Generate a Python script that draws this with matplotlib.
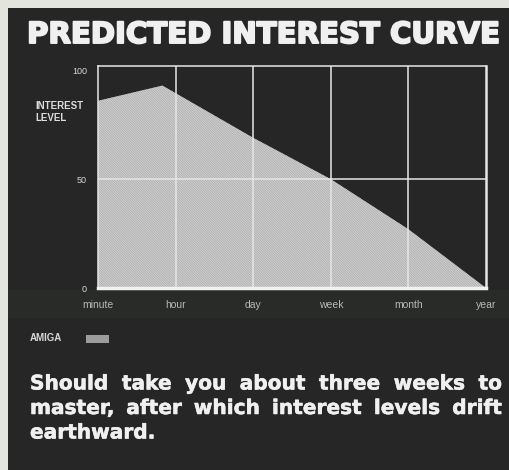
import numpy as np
import matplotlib.pyplot as plt
import matplotlib.patheffects as pe
from matplotlib.patches import Rectangle

# interest curve (x is position along the time axis, 0 = minute ... 5 = year)
time_labels = ['minute', 'hour', 'day', 'week', 'month', 'year']
curve_x = [0, 0.83, 2, 3, 4, 5]
curve_y = [86, 93, 69, 50, 27, 0]
y_ticks = [0, 50, 100]

title = 'PREDICTED INTEREST CURVE'
caption = ['Should take you about three weeks to',
           'master, after which interest levels drift',
           'earthward.']

W, H = 510, 470
bg = '#262626'
fg = '#f0f0f0'
heavy = ['DejaVu Sans']

plt.rcParams['font.family'] = ['Liberation Sans', 'DejaVu Sans']
plt.rcParams['hatch.linewidth'] = 0.7

fig = plt.figure(figsize=(W / 100, H / 100), dpi=100)
fig.patch.set_facecolor('#e4e4df')

# dark panel
fig.add_artist(Rectangle((8 / W, 0), 1, 1 - 8 / H, transform=fig.transFigure,
                         facecolor=bg, edgecolor='none', zorder=-5))
fig.add_artist(Rectangle((8 / W, 1 - 318 / H), 1, 28 / H, transform=fig.transFigure,
                         facecolor='#2a302b', edgecolor='none', alpha=0.6, zorder=-4))

fig.text(263 / W, 1 - 35 / H, title, color=fg, fontsize=21, fontweight='bold',
         family=heavy, ha='center', va='center',
         path_effects=[pe.withStroke(linewidth=1.4, foreground=fg)])

ax = fig.add_axes([98 / W, 1 - 288 / H, 388 / W, 222 / H])
ax.set_facecolor('none')
ax.fill_between(curve_x, curve_y, 0, facecolor='#a8a8a8', edgecolor='#d2d2d2',
                hatch='\\' * 14, linewidth=0, zorder=1)
ax.set_xlim(0, 5)
ax.set_ylim(0, 102)

for k in range(1, 5):
    ax.axvline(k, color='#e6e6e6', lw=1.1, zorder=3)
ax.axhline(50, color='#e6e6e6', lw=1.1, zorder=3)

for side in ['left', 'top', 'right']:
    ax.spines[side].set_color('#e6e6e6')
    ax.spines[side].set_linewidth(1.1)
ax.spines['right'].set_linewidth(1.8)
ax.spines['bottom'].set_color('#f2f2f2')
ax.spines['bottom'].set_linewidth(2.5)
for sp in ax.spines.values():
    sp.set_zorder(4)

ax.set_xticks([])
ax.set_yticks(y_ticks)
ax.set_yticklabels([str(v) for v in y_ticks], fontsize=6.5, color='#d8d8d8')
ax.tick_params(axis='y', length=0, pad=8)

# time labels under the axis
for i, lab in enumerate(time_labels):
    ax.text(i, -8, lab, fontsize=7.5, color='#b8b8b8', ha='center', va='center',
            clip_on=False)

fig.text(83 / W, 1 - 112 / H, 'INTEREST\nLEVEL', color='#dcdcdc', fontsize=7,
         fontweight='bold', ha='right', va='center', linespacing=1.25,
         multialignment='left')

# legend
fig.text(30 / W, 1 - 338 / H, 'AMIGA', color='#d8d8d8', fontsize=7,
         fontweight='bold', ha='left', va='center')
fig.add_artist(Rectangle((86 / W, 1 - 343 / H), 23 / W, 8 / H,
                         transform=fig.transFigure, facecolor='#9c9c9c',
                         edgecolor='none'))

# justified caption
stroke = [pe.withStroke(linewidth=0.4, foreground=fg)]
fig.canvas.draw()
renderer = fig.canvas.get_renderer()
x0, x1 = 30, 502
for n, line in enumerate(caption):
    yy = 1 - (384 + n * 24.5) / H
    words = line.split()
    if n == len(caption) - 1:
        fig.text(x0 / W, yy, line, color=fg, fontsize=14.5, fontweight='bold',
                 family=heavy, ha='left', va='center', path_effects=stroke)
        continue
    arts = [fig.text(0, yy, w, color=fg, fontsize=14.5, fontweight='bold',
                     family=heavy, ha='left', va='center', path_effects=stroke)
            for w in words]
    widths = [a.get_window_extent(renderer).width for a in arts]
    gap = (x1 - x0 - sum(widths)) / (len(words) - 1)
    x = x0
    for a, w in zip(arts, widths):
        a.set_x(x / W)
        x += w + gap

fig.savefig('out.png', dpi=100, facecolor=fig.get_facecolor())
